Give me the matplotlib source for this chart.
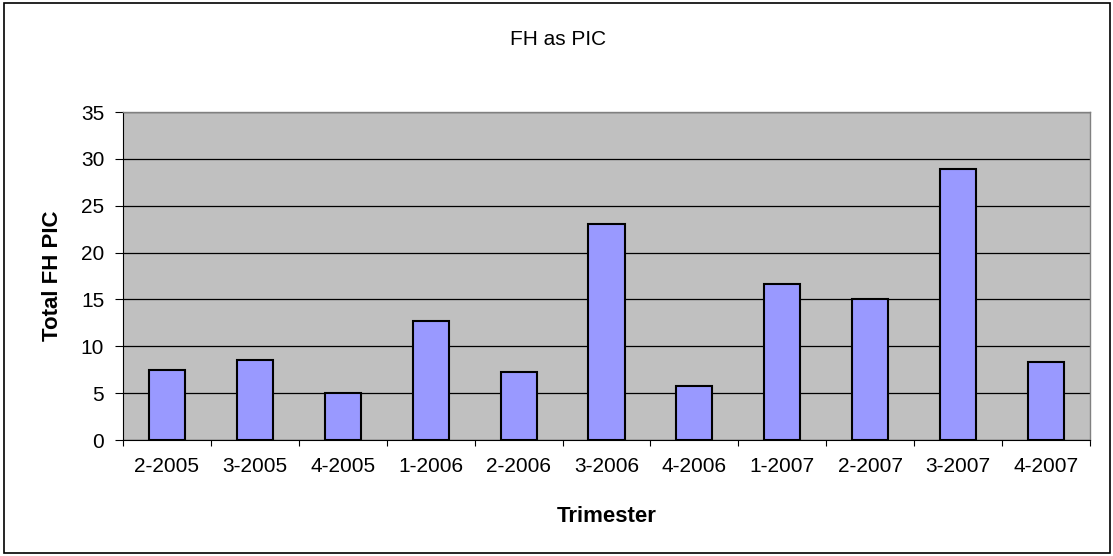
import matplotlib
matplotlib.use("Agg")
import matplotlib.pyplot as plt
from matplotlib.patches import Rectangle
import numpy as np

categories = ["2-2005", "3-2005", "4-2005", "1-2006", "2-2006", "3-2006",
              "4-2006", "1-2007", "2-2007", "3-2007", "4-2007"]
values = [7.5, 8.55, 5.0, 12.7, 7.3, 23.1, 5.8, 16.65, 15.05, 28.95, 8.3]
yticks = [0, 5, 10, 15, 20, 25, 30, 35]

plt.rcParams['font.family'] = ['Liberation Sans', 'DejaVu Sans']

W, H = 1113, 556
fig = plt.figure(figsize=(W / 100, H / 100), dpi=100)
fig.patch.set_facecolor('white')
fig.patches.append(Rectangle((4 / W, 3 / H), (1110 - 4) / W, (553 - 3) / H,
                             transform=fig.transFigure, fill=False,
                             edgecolor='black', linewidth=1.2))

left, right, top, bottom = 123, 1090, 112, 440
ax = fig.add_axes([left / W, 1 - bottom / H, (right - left) / W, (bottom - top) / H])
ax.set_facecolor('#C0C0C0')

x = np.arange(len(categories))
ax.bar(x, values, width=0.41, color='#9999FF', edgecolor='black', linewidth=1.5, zorder=3)

ax.set_xlim(-0.5, len(categories) - 0.5)
ax.set_ylim(0, 35)
ax.set_yticks(yticks)
ax.set_yticklabels([str(v) for v in yticks], fontsize=15)
ax.yaxis.grid(True, color='black', linewidth=0.9, zorder=1)
ax.set_axisbelow(True)

ax.set_xticks(np.arange(-0.5, len(categories), 1.0))
ax.set_xticklabels([])
ax.set_xticks(x, minor=True)
ax.set_xticklabels(categories, minor=True, fontsize=15)
ax.tick_params(axis='x', which='minor', length=0, pad=12)
ax.tick_params(axis='x', which='major', direction='out', length=4.5, color='black')
ax.tick_params(axis='y', direction='out', length=5.5, color='black', pad=8)

for s in ['top', 'right']:
    ax.spines[s].set_color('#808080')
    ax.spines[s].set_linewidth(1.0)
ax.spines['left'].set_color('black')
ax.spines['bottom'].set_color('black')

ax.set_xlabel('Trimester', fontsize=16, fontweight='bold')
ax.xaxis.label.set_va('baseline')
ax.xaxis.set_label_coords(((left + right) / 2 - left) / (right - left), (bottom - 522) / (bottom - top))

ax.set_ylabel('Total FH PIC', fontsize=16, fontweight='bold')
ax.yaxis.label.set_va('center')
ax.yaxis.label.set_ha('center')
ax.yaxis.set_label_coords((53 - left) / (right - left), 0.5)

fig.text(558 / W, 1 - 45 / H, 'FH as PIC', ha='center', va='baseline', fontsize=15)

fig.savefig('out.png', dpi=100)
